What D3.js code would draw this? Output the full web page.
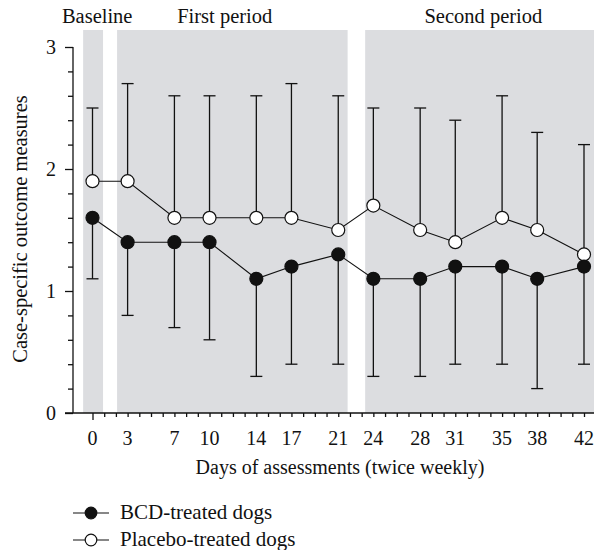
<!DOCTYPE html>
<html>
<head>
<meta charset="utf-8">
<script src="https://cdn.jsdelivr.net/npm/d3@7"></script>
<style>
  body { margin: 0; background: #fff; }
  text { font-family: "Liberation Serif", "Times New Roman", serif; fill: #111; }
</style>
</head>
<body>
<svg id="chart" width="594" height="550"></svg>
<script>
// assessment days and group values (mean, error bar end)
var days = [0, 3, 7, 10, 14, 17, 21, 24, 28, 31, 35, 38, 42];
var bcdMean = [1.6, 1.4, 1.4, 1.4, 1.1, 1.2, 1.3, 1.1, 1.1, 1.2, 1.2, 1.1, 1.2];
var bcdLow = [1.1, 0.8, 0.7, 0.6, 0.3, 0.4, 0.4, 0.3, 0.3, 0.4, 0.4, 0.2, 0.4];
var placeboMean = [1.9, 1.9, 1.6, 1.6, 1.6, 1.6, 1.5, 1.7, 1.5, 1.4, 1.6, 1.5, 1.3];
var placeboHigh = [2.5, 2.7, 2.6, 2.6, 2.6, 2.7, 2.6, 2.5, 2.5, 2.4, 2.6, 2.3, 2.2];

// shaded study periods (in days)
var periodNames = ["Baseline", "First period", "Second period"];
var periodStart = [-0.8, 2.1, 23.3];
var periodEnd = [0.9, 21.8, 43.7];
var periodLabelDay = [0.4, 11.3, 33.4];

var svg = d3.select("#chart");

var x = d3.scaleLinear().domain([0, 42]).range([92.5, 584]);
var y = d3.scaleLinear().domain([0, 3]).range([413, 47]);

var bandTop = 30;
var fontSize = "20px";

// grey period bands
svg.selectAll("rect.band")
    .data(periodNames)
    .enter()
    .append("rect")
        .attr("class", "band")
        .attr("x", function(d, i){ return x(periodStart[i]) })
        .attr("width", function(d, i){ return x(periodEnd[i]) - x(periodStart[i]) })
        .attr("y", bandTop)
        .attr("height", y(0) - bandTop)
        .style("fill", "#dcdde0")

svg.selectAll("text.period")
    .data(periodNames)
    .enter()
    .append("text")
        .attr("class", "period")
        .attr("x", function(d, i){ return x(periodLabelDay[i]) })
        .attr("y", 23)
        .attr("text-anchor", "middle")
        .style("font-size", "20.5px")
        .text(function(d){ return d })

// y axis
var yAxis = d3.axisLeft(y)
    .tickValues(d3.range(0, 3.01, 0.2))
    .tickSize(5)
    .tickFormat("")
    .tickSizeOuter(0);
var yg = svg.append("g").attr("transform", "translate(73,0)").call(yAxis);
yg.selectAll(".tick line").attr("x2", function(d){ return Math.abs(d - Math.round(d)) < 0.01 ? -8 : -5 });
yg.selectAll(".tick")
    .filter(function(d){ return Math.abs(d - Math.round(d)) < 0.01 })
    .append("text")
        .attr("x", -17)
        .attr("dy", "0.34em")
        .attr("text-anchor", "end")
        .style("font-size", fontSize)
        .style("font-family", "Liberation Serif, serif")
        .attr("fill", "#111")
        .text(function(d){ return d3.format("d")(d) })
yg.select(".domain").remove();
yg.append("line").attr("x1", 0).attr("x2", 0).attr("y1", y(3)).attr("y2", y(0));
yg.selectAll("line").attr("stroke", "#111").attr("stroke-width", 1.3);

// x axis (tick every day)
var xAxis = d3.axisBottom(x)
    .tickValues(d3.range(0, 44))
    .tickSize(4)
    .tickFormat("")
    .tickSizeOuter(0);
var xg = svg.append("g").attr("transform", "translate(0," + y(0) + ")").call(xAxis);
xg.selectAll(".tick line").attr("y2", function(d){ return d === 0 ? 7 : 4 });
xg.select(".domain").remove();
xg.append("line").attr("x1", 65).attr("x2", 594).attr("y1", 0).attr("y2", 0);
xg.selectAll("line").attr("stroke", "#111").attr("stroke-width", 1.3);

svg.selectAll("text.xlab")
    .data(days)
    .enter()
    .append("text")
        .attr("class", "xlab")
        .attr("x", function(d){ return x(d) })
        .attr("y", 445)
        .attr("text-anchor", "middle")
        .style("font-size", fontSize)
        .text(function(d){ return d })

svg.append("text")
    .attr("x", 340)
    .attr("y", 474)
    .attr("text-anchor", "middle")
    .style("font-size", fontSize)
    .text("Days of assessments (twice weekly)")

svg.append("text")
    .attr("transform", "translate(27,229) rotate(-90)")
    .attr("text-anchor", "middle")
    .style("font-size", "20.5px")
    .text("Case-specific outcome measures")

// error bars
function errorBars(ends, means) {
    var g = svg.append("g").attr("stroke", "#111").attr("stroke-width", 1.3);
    g.selectAll("line.stem")
        .data(days)
        .enter()
        .append("line")
            .attr("x1", function(d){ return x(d) })
            .attr("x2", function(d){ return x(d) })
            .attr("y1", function(d, i){ return y(means[i]) })
            .attr("y2", function(d, i){ return y(ends[i]) })
    g.selectAll("line.cap")
        .data(days)
        .enter()
        .append("line")
            .attr("x1", function(d){ return x(d) - 6 })
            .attr("x2", function(d){ return x(d) + 6 })
            .attr("y1", function(d, i){ return y(ends[i]) })
            .attr("y2", function(d, i){ return y(ends[i]) })
}
errorBars(placeboHigh, placeboMean);
errorBars(bcdLow, bcdMean);

var line = d3.line()
    .x(function(d){ return x(d[0]) })
    .y(function(d){ return y(d[1]) });

function series(means, fill) {
    var pts = days.map(function(d, i){ return [d, means[i]] });
    svg.append("path")
        .datum(pts)
        .attr("d", line)
        .attr("fill", "none")
        .attr("stroke", "#111")
        .attr("stroke-width", 1.1)
    svg.append("g").selectAll("circle")
        .data(pts)
        .enter()
        .append("circle")
            .attr("cx", function(d){ return x(d[0]) })
            .attr("cy", function(d){ return y(d[1]) })
            .attr("r", 6.5)
            .attr("fill", fill)
            .attr("stroke", "#111")
            .attr("stroke-width", 1.2)
}
series(placeboMean, "#fff");
series(bcdMean, "#111");

// legend
var legendKeys = ["BCD-treated dogs", "Placebo-treated dogs"];
var legendFill = ["#111", "#fff"];
var legend = svg.append("g");
legend.selectAll("line")
    .data(legendKeys)
    .enter()
    .append("line")
        .attr("x1", 73)
        .attr("x2", 109)
        .attr("y1", function(d, i){ return 513 + i * 27 })
        .attr("y2", function(d, i){ return 513 + i * 27 })
        .attr("stroke", "#111")
        .attr("stroke-width", 1.2)
legend.selectAll("circle")
    .data(legendKeys)
    .enter()
    .append("circle")
        .attr("cx", 91)
        .attr("cy", function(d, i){ return 513 + i * 27 })
        .attr("r", 5.8)
        .attr("fill", function(d, i){ return legendFill[i] })
        .attr("stroke", "#111")
        .attr("stroke-width", 1.2)
legend.selectAll("text")
    .data(legendKeys)
    .enter()
    .append("text")
        .attr("x", 120)
        .attr("y", function(d, i){ return 519 + i * 27 })
        .style("font-size", "21px")
        .text(function(d){ return d })
</script>
</body>
</html>
